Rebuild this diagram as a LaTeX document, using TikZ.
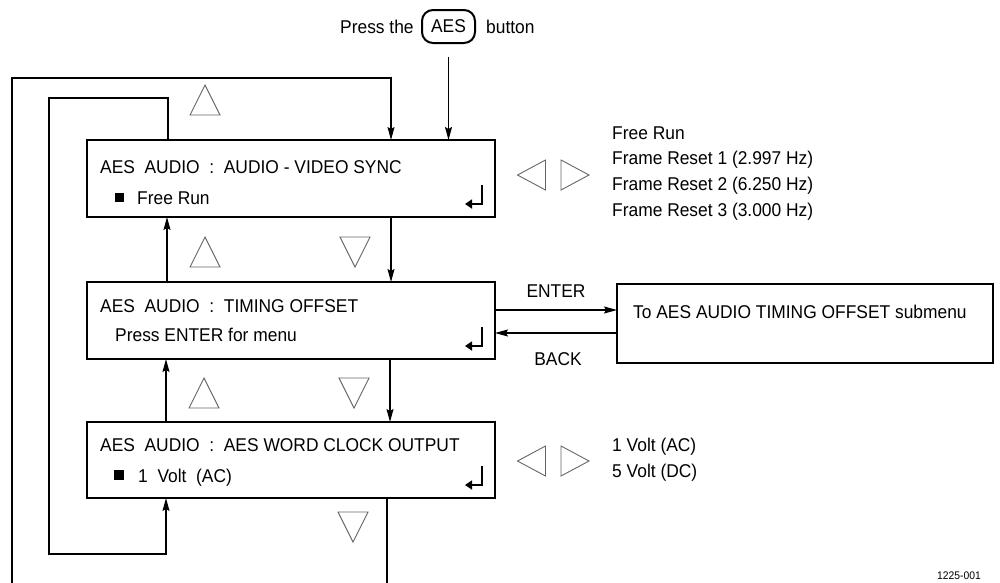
\documentclass[tikz,border=0pt]{standalone}
\usepackage{fontspec}
\setmainfont{Liberation Sans}[FakeStretch=0.94]
\usetikzlibrary{arrows.meta,positioning}

\tikzset{
	menubox/.style={draw, line width=2.5pt, minimum width=408pt, inner sep=0pt, outer sep=0pt, anchor=north west},
	subbox/.style={draw, line width=2.5pt, minimum width=376pt, minimum height=79pt, inner sep=0pt, outer sep=0pt, anchor=north west},
	lcdtext/.style={inner sep=0pt, anchor=base west, font=\fontsize{18.5}{22}\selectfont},
	arr/.style={line width=1.2pt, -{Stealth[length=13pt,width=7pt,inset=2pt]}},
	navtri/.style={draw=black!60, line width=0.9pt},
	uptri/.pic={\draw[navtri] (-15,15) -- (0,-15) -- (15,15) -- cycle;},
	dntri/.pic={\draw[navtri] (-15,-15) -- (0,15) -- (15,-15) -- cycle;},
	lftri/.pic={\draw[navtri] (14,-15) -- (-14,0) -- (14,15) -- cycle;},
	rttri/.pic={\draw[navtri] (-14,-15) -- (14,0) -- (-14,15) -- cycle;},
	enterkey/.pic={\draw[line width=2.5pt, -{Triangle[length=7pt,width=9pt]}] (0,-19) -- (0,0) -- (-17,0);}
}

\begin{document}
\begin{tikzpicture}[x=1pt, y=-1pt]
	
	\useasboundingbox (0,0) rectangle (1000,582);
	\clip (0,0) rectangle (1000,582);
	
	% key at the top
	\node[lcdtext] (press) at (340,33) {Press the};
	\node[draw, rounded corners=11pt, line width=2pt, minimum width=53pt, minimum height=33pt, inner sep=0pt, font=\fontsize{18.5}{22}\selectfont] (aeskey) at (448.5,26.5) {AES};
	\node[lcdtext] (button) at (486,33) {button};
	
	% menu boxes
	\node[menubox, minimum height=77pt] (avsync) at (87,140) {};
	\node[menubox, minimum height=77pt] (timing) at (87,282) {};
	\node[menubox, minimum height=76pt] (wordclk) at (87,422) {};
	\node[subbox] (submenu) at (617,284) {};
	
	\node[lcdtext] (avtitle) at (100,173) {AES\ \ AUDIO\ \ :\ \ AUDIO - VIDEO SYNC};
	\node[lcdtext] (avvalue) at (115,204) {\rule[1.8pt]{9pt}{9pt}\hspace{13pt}Free Run};
	\node[lcdtext] (tmtitle) at (100,312) {AES\ \ AUDIO\ \ :\ \ TIMING OFFSET};
	\node[lcdtext] (tmvalue) at (115,341) {Press ENTER for menu};
	\node[lcdtext] (wctitle) at (100,451) {AES\ \ AUDIO\ \ :\ \ AES WORD CLOCK OUTPUT};
	\node[lcdtext] (wcvalue) at (114,482) {\rule[1.8pt]{10pt}{10pt}\hspace{14pt}1\ \ Volt\ \ (AC)};
	\node[lcdtext] (subtext) at (633,318) {To AES AUDIO TIMING OFFSET submenu};
	
	\pic at ([shift={(-13pt,13pt)}]avsync.south east) {enterkey};
	\pic at ([shift={(-13pt,13pt)}]timing.south east) {enterkey};
	\pic at ([shift={(-13pt,13pt)}]wordclk.south east) {enterkey};
	
	% choices
	\foreach \opt [count=\i] in {Free Run, Frame Reset 1 (2.997 Hz), Frame Reset 2 (6.250 Hz), Frame Reset 3 (3.000 Hz)}
		\node[lcdtext] (sync\i) at (612,113.3+25.7*\i) {\opt};
	\foreach \opt [count=\i] in {1 Volt (AC), 5 Volt (DC)}
		\node[lcdtext] (volt\i) at (612,425.7+26*\i) {\opt};
	
	% front panel buttons
	\pic at (205,100) {uptri};
	\pic at (205,252) {uptri};
	\pic at (355,252) {dntri};
	\pic at (204,393) {uptri};
	\pic at (354,393) {dntri};
	\pic at (353,527) {dntri};
	\pic at (531.5,175) {lftri};
	\pic at (575,175) {rttri};
	\pic at (531.5,461) {lftri};
	\pic at (575,461) {rttri};
	
	% connectors
	\draw[arr] ([yshift=-13pt]aeskey.south) -- (aeskey.south |- avsync.north);
	\draw[arr] ([xshift=304pt]avsync.south west) -- ([xshift=304pt]timing.north west);
	\draw[arr] ([xshift=80pt]timing.north west) -- ([xshift=80pt]avsync.south west);
	\draw[arr] ([xshift=303pt]timing.south west) -- ([xshift=303pt]wordclk.north west);
	\draw[arr] ([xshift=79pt]wordclk.north west) -- ([xshift=79pt]timing.south west);
	\draw[arr] ([xshift=81pt]avsync.north west) -- ++(0,-42) -| (49,554) -| ([xshift=79pt]wordclk.south west);
	\draw[arr] ([xshift=300pt]wordclk.south west) -- ++(0,100) -| (12,78) -| ([xshift=304pt]avsync.north west);
	
	\coordinate (entr) at ([yshift=-28pt]timing.north east);
	\coordinate (bck) at ([yshift=-51pt]timing.north east);
	\draw[arr] (entr) -- (entr -| submenu.west);
	\draw[arr] (bck -| submenu.west) -- (bck);
	\node[lcdtext, anchor=base] (enterlbl) at (556,297) {ENTER};
	\node[lcdtext, anchor=base] (backlbl) at (558,365) {BACK};
	
	\node[lcdtext, font=\fontsize{11}{13}\selectfont] (figno) at (937,579) {1225-001};
	
\end{tikzpicture}
\end{document}
